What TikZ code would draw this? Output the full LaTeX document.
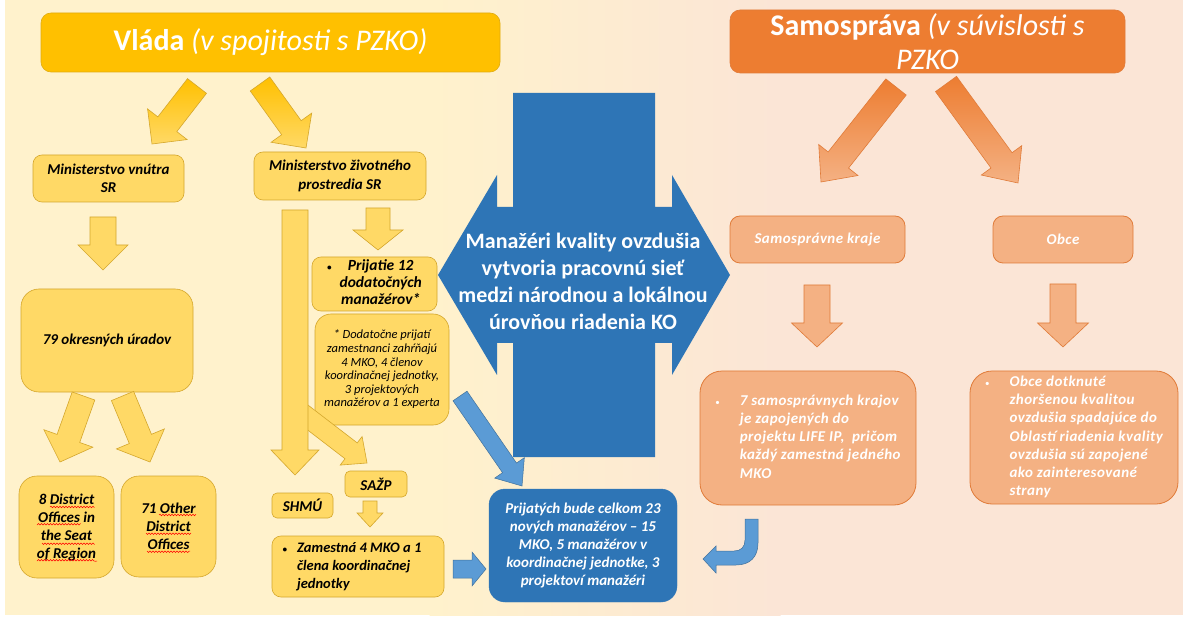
\documentclass[tikz,border=0pt]{standalone}
\usepackage{fontspec}
\setmainfont{Carlito}
\newfontfamily\spacedfont[LetterSpace=3]{Carlito}
\usetikzlibrary{calc,decorations.pathmorphing}

\definecolor{bgleft}{HTML}{FFF2CC}
\definecolor{bgright}{HTML}{FBE5D6}
\definecolor{gold}{HTML}{FFC000}
\definecolor{goldline}{HTML}{E0AC10}
\definecolor{ylight}{HTML}{FFD966}
\definecolor{yline}{HTML}{D4A72C}
\definecolor{samoorange}{HTML}{ED7D31}
\definecolor{olight}{HTML}{F4B183}
\definecolor{oline}{HTML}{E07B39}
\definecolor{blueone}{HTML}{2E75B6}
\definecolor{bluetwo}{HTML}{5B9BD5}
\definecolor{blueline}{HTML}{41719C}

% block arrow: style, from, to, half shaft, half head, head length
\newcommand{\blockarrow}[6][]{%
  \path ($(#3)!#6!(#2)$) coordinate (bh);
  \draw[#1] ($(#2)!#4!90:(#3)$) -- ($(bh)!#4!90:(#3)$) -- ($(bh)!#5!90:(#3)$) -- (#3)
    -- ($(bh)!#5!-90:(#3)$) -- ($(bh)!#4!-90:(#3)$) -- ($(#2)!#4!-90:(#3)$) -- cycle;}

\begin{document}
\begin{tikzpicture}[x=1pt,y=-1pt,
  ybox/.style={draw=yline,fill=ylight,line width=0.6pt,rounded corners=9pt,align=center,inner sep=1pt,
    font=\bfseries\itshape\fontsize{15}{18.5}\selectfont},
  obox/.style={draw=oline,fill=olight,line width=0.8pt,rounded corners=10pt,align=center,inner sep=1pt,text=white,
    font=\spacedfont\bfseries\itshape\fontsize{15}{18.2}\selectfont},
  bbox/.style={draw=blueone,fill=blueone,rounded corners=16pt,align=center,inner sep=1pt,text=white,
    font=\bfseries\itshape\fontsize{15}{18}\selectfont},
  titlebox/.style={rounded corners=10pt,align=center,text=white,line width=0.6pt,inner sep=1pt,
    font=\fontsize{30}{34}\selectfont},
  yarrow/.style={draw=yline,fill=ylight,line width=0.6pt},
  ygrad/.style={draw=yline,top color=gold,bottom color=ylight,line width=0.6pt},
  oarrow/.style={draw=oline,fill=olight,line width=0.6pt},
  ograd/.style={draw=oline,top color=samoorange,bottom color=olight,line width=0.6pt},
  barrow/.style={draw=blueline,fill=bluetwo,line width=0.5pt},
  squiggle/.style={red,line width=0.5pt,decorate,decoration={snake,segment length=3pt,amplitude=0.8pt}}]
\useasboundingbox (0,0) rectangle (1183,617);
\fill[white] (0,0) rectangle (1183,617);
\fill[bgleft] (5,0) rectangle (430,615);
\shade[left color=bgleft,right color=bgright] (429.5,0) rectangle (780.5,615);
\fill[bgright] (780,0) rectangle (1183,615);

\fill[blueone] (513,93) -- (655,93) -- (655,207) -- (672,207) -- (672,175) -- (730,275) -- (672,375)
  -- (672,343) -- (655,343) -- (655,457) -- (513,457) -- (513,343) -- (497,343) -- (497,375)
  -- (438,275) -- (497,175) -- (497,207) -- (513,207) -- cycle;
\node[align=center,text=white,font=\bfseries\fontsize{22}{27}\selectfont] (siet) at (583,281)
  {Manažéri kvality ovzdušia\\vytvoria pracovnú sieť\\medzi národnou a lokálnou\\úrovňou riadenia KO};

\node[titlebox,fill=gold,draw=goldline,minimum width=459,minimum height=59] (vlada) at (270.5,42.5)
  {\textbf{Vláda} \textit{(v spojitosti s PZKO)}};
\node[titlebox,fill=samoorange,draw=oline,minimum width=395,minimum height=63] (samo) at (927.5,41.5)
  {\textbf{Samospráva} \textit{(v súvislosti s}\\\textit{PZKO}};

\node[ybox,minimum width=151,minimum height=47] (minv) at (108.5,178.5) {Ministerstvo vnútra\\SR};
\node[ybox,minimum width=172,minimum height=48] (mzp) at (340,176) {Ministerstvo životného\\prostredia SR};
\node[ybox,rounded corners=18pt,minimum width=172,minimum height=103]
  (okres) at (107,340.5) {79 okresných úradov};
\node[ybox,rounded corners=18pt,minimum width=95,minimum height=102,font=\bfseries\itshape\fontsize{15}{18}\selectfont]
  (seat) at (66.5,527) {8 District\\Offices in\\the Seat\\of Region};
\node[ybox,rounded corners=18pt,minimum width=95,minimum height=101,font=\bfseries\itshape\fontsize{15}{18}\selectfont]
  (other) at (168.5,526.5) {71 Other\\District\\Offices};
\node[ybox,minimum width=125,minimum height=54,font=\bfseries\itshape\fontsize{15.5}{17}\selectfont]
  (prij) at (374.5,284) {\begin{tabular}{@{}l@{\hspace{8pt}}c@{}}{\small\textbullet} & Prijatie 12\\ & dodatočných\\ & manažérov*\end{tabular}};
\node[ybox,rounded corners=16pt,minimum width=134,minimum height=111,font=\itshape\fontsize{12.5}{13.6}\selectfont]
  (pozn) at (382,369.5) {* Dodatočne prijatí\\zamestnanci zahŕňajú\\4 MKO, 4 členov\\koordinačnej jednotky,\\3 projektových\\manažérov a 1 experta};
\node[ybox,rounded corners=5pt,minimum width=62,minimum height=26]
  (sazp) at (376,484) {SAŽP};
\node[ybox,rounded corners=5pt,minimum width=61,minimum height=25]
  (shmu) at (302.5,505.5) {SHMÚ};
\node[ybox,minimum width=172,minimum height=61,font=\bfseries\itshape\fontsize{14.5}{18}\selectfont] (zam) at (358,566.5)
  {\begin{tabular}{@{}l@{\hspace{10pt}}l@{\hspace{12pt}}}{\small\textbullet} & Zamestná 4 MKO a 1\\ & člena koordinačnej\\ & jednotky\end{tabular}};
\node[bbox,minimum width=188,minimum height=113] (spolu) at (583,545.5)
  {Prijatých bude celkom 23\\nových manažérov – 15\\MKO, 5 manažérov v\\koordinačnej jednotke, 3\\projektoví manažéri};

\node[obox,minimum width=175,minimum height=47] (kraje) at (817.5,239.5) {Samosprávne kraje};
\node[obox,minimum width=140,minimum height=47] (obce) at (1063,239.5) {Obce};
\node[obox,rounded corners=22pt,minimum width=216,minimum height=134] (krajeinfo) at (808,438)
  {\begin{tabular}{@{}l@{\hspace{20pt}}l@{}}{\mdseries\upshape\small\textbullet} & 7 samosprávnych krajov\\ & je zapojených do\\ & projektu LIFE IP,\ \ pričom\\ & každý zamestná jedného\\ & MKO\end{tabular}};
\node[obox,rounded corners=22pt,minimum width=208,minimum height=133] (obceinfo) at (1074,437.5)
  {\begin{tabular}{@{}l@{\hspace{20pt}}l@{}}{\mdseries\upshape\small\textbullet} & Obce dotknuté\\ & zhoršenou kvalitou\\ & ovzdušia spadajúce do\\ & Oblastí riadenia kvality\\ & ovzdušia sú zapojené\\ & ako zainteresované\\ & strany\end{tabular}};

\draw[squiggle] (50,507) -- (94,507) (37,525) -- (80,525) (42,543) -- (94,543) (37,561) -- (97,561);
\draw[squiggle] (159,515) -- (195,515) (146,533) -- (191,533) (147,551) -- (190,551);

\path
  (197,86) coordinate (a1s) (152,144) coordinate (a1e)
  (260,84) coordinate (a2s) (306,148) coordinate (a2e)
  (103,217) coordinate (a3s) (103,270) coordinate (a3e)
  (83.5,396) coordinate (a4s) (60,462) coordinate (a4e)
  (122.5,396) coordinate (a5s) (150,462) coordinate (a5e)
  (295,210) coordinate (a6s) (295,475) coordinate (a6e)
  (378,208) coordinate (a7s) (378,250) coordinate (a7e)
  (298,410) coordinate (a8s) (367,463) coordinate (a8e)
  (370,501) coordinate (a9s) (370,527) coordinate (a9e)
  (453,569) coordinate (b1s) (486,569) coordinate (b1e)
  (460,396) coordinate (b2s) (522,486) coordinate (b2e)
  (896,87) coordinate (o1s) (821,182) coordinate (o1e)
  (946,84) coordinate (o2s) (1018,183) coordinate (o2e)
  (817,285) coordinate (o3s) (817,347) coordinate (o3e)
  (1063,284) coordinate (o4s) (1063,347) coordinate (o4e)
  ;
\blockarrow[ygrad]{a1s}{a1e}{12pt}{25pt}{25pt}
\blockarrow[ygrad]{a2s}{a2e}{12pt}{25pt}{25pt}
\blockarrow[yarrow]{a3s}{a3e}{13pt}{25pt}{25pt}
\blockarrow[yarrow]{a4s}{a4e}{12pt}{26pt}{25pt}
\blockarrow[yarrow]{a5s}{a5e}{12pt}{26pt}{25pt}
\blockarrow[yarrow]{a8s}{a8e}{10pt}{18pt}{20pt}
\blockarrow[yarrow]{a6s}{a6e}{13pt}{24pt}{25pt}
\blockarrow[yarrow]{a7s}{a7e}{12pt}{25pt}{20pt}
\blockarrow[yarrow]{a9s}{a9e}{7pt}{13pt}{14pt}
\blockarrow[barrow]{b1s}{b1e}{9pt}{17pt}{14pt}
\blockarrow[barrow]{b2s}{b2e}{8.5pt}{18pt}{22pt}
\blockarrow[ograd]{o1s}{o1e}{13pt}{25pt}{28pt}
\blockarrow[ograd]{o2s}{o2e}{13pt}{25pt}{28pt}
\blockarrow[oarrow]{o3s}{o3e}{13pt}{25.5pt}{24pt}
\blockarrow[oarrow]{o4s}{o4e}{13pt}{25.5pt}{24pt}
\draw[barrow] (745,519) -- (758,519) -- (758,543) .. controls (758,557) and (750,565) .. (736,565)
  -- (716,565) -- (716,573) -- (703,559) -- (716,546) -- (716,551) -- (734,551)
  .. controls (741,551) and (745,547) .. (745,540) -- cycle;
\end{tikzpicture}
\end{document}
